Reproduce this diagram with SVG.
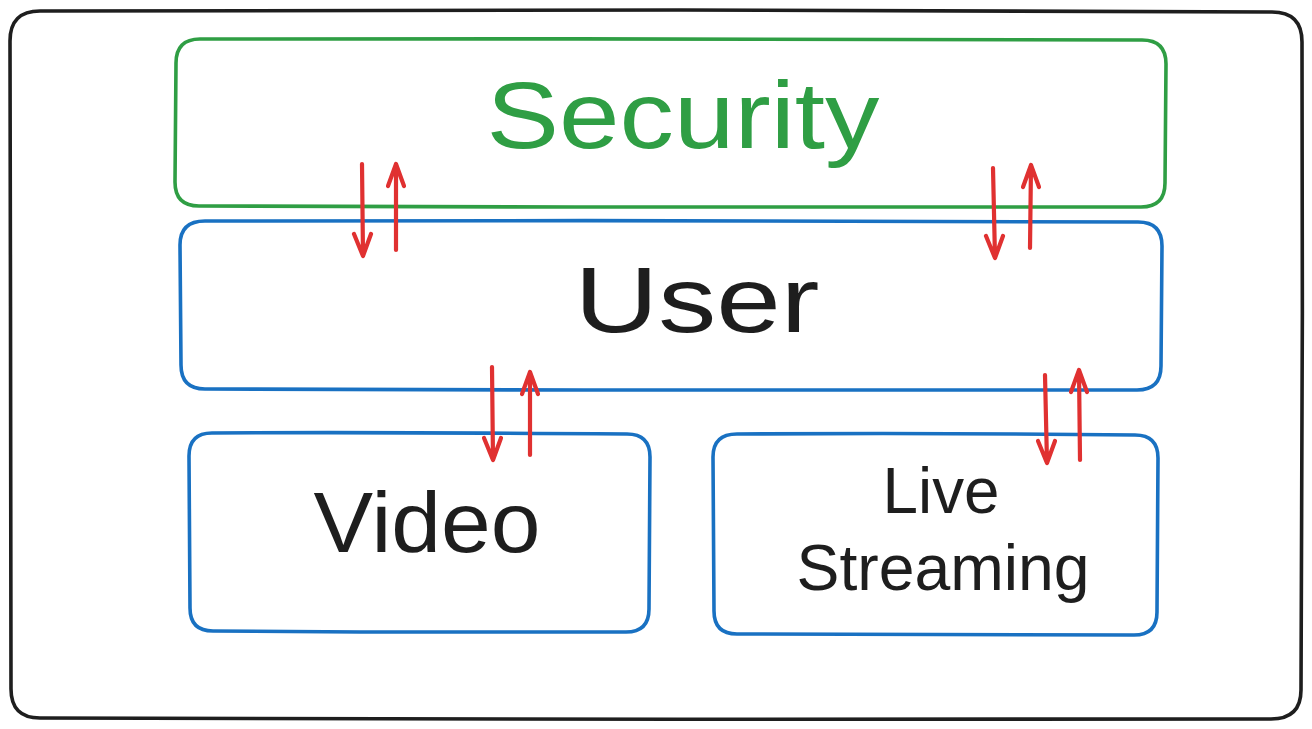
<svg xmlns="http://www.w3.org/2000/svg" width="1312" height="729" viewBox="0 0 1312 729">
<style>
.box{fill:none;stroke-width:3.6;stroke-linejoin:round}
.outer{stroke:#1e1e1e}
.green{stroke:#2f9e44}
.blue{stroke:#1971c2}
.lbl{font-family:"Liberation Sans",Arial,sans-serif;text-anchor:middle;fill:#1e1e1e}
.arr{fill:none;stroke:#e03131;stroke-width:4.2;stroke-linecap:round;stroke-linejoin:round}
</style>
<rect width="1312" height="729" fill="#ffffff"/>
<g id="frame">
<path class="box outer" d="M40 11 C400 9 900 10 1272 12 Q1302 12 1302 42 C1303 250 1302 500 1301 690 Q1301 719 1271 719 C900 720 400 719 40 718 Q11 718 11 689 C10 500 11 250 10 41 Q10 11 40 11 Z"/>
</g>
<g id="security">
<path class="box green" d="M200 39 C500 38 900 40 1142 40 Q1166 40 1166 64 L1165 183 Q1165 207 1141 207 C900 208 500 207 199 206 Q175 206 175 182 L176 63 Q176 39 200 39 Z"/>
<text class="lbl" x="683" y="148" font-size="94" style="fill:#2f9e44" textLength="393" lengthAdjust="spacingAndGlyphs">Security</text>
</g>
<g id="user">
<path class="box blue" d="M205 221 C500 220 900 221 1138 222 Q1162 222 1162 246 L1161 366 Q1161 390 1137 390 C900 391 500 390 205 389 Q181 389 181 365 L180 245 Q180 221 205 221 Z"/>
<text class="lbl" x="697" y="332" font-size="92" textLength="245" lengthAdjust="spacingAndGlyphs">User</text>
</g>
<g id="video">
<path class="box blue" d="M212 433 C350 432 500 433 627 434 Q650 434 650 457 L649 609 Q649 632 626 632 C500 633 350 632 213 631 Q190 631 190 608 L189 456 Q189 433 212 433 Z"/>
<text class="lbl" x="427" y="552" font-size="86" textLength="227" lengthAdjust="spacingAndGlyphs">Video</text>
</g>
<g id="live-streaming">
<path class="box blue" d="M737 434 C900 433 1050 434 1135 435 Q1158 435 1158 458 L1157 612 Q1157 635 1134 635 C1050 636 900 635 737 634 Q714 634 714 611 L713 457 Q713 434 737 434 Z"/>
<text class="lbl" x="941" y="513" font-size="64" textLength="117" lengthAdjust="spacingAndGlyphs">Live</text>
<text class="lbl" x="943" y="590" font-size="64" textLength="293" lengthAdjust="spacingAndGlyphs">Streaming</text>
</g>
<g id="connectors">
<path class="arr" d="M362 164 L363 256 M354 234 L363 256 L371 234"/>
<path class="arr" d="M396 250 L396 164 M388 186 L396 164 L404 186"/>
<path class="arr" d="M993 168 L995 258 M986 236 L995 258 L1003 236"/>
<path class="arr" d="M1030 248 L1031 165 M1023 187 L1031 165 L1039 187"/>
<path class="arr" d="M492 367 L493 460 M484 438 L493 460 L501 438"/>
<path class="arr" d="M530 455 L530 372 M522 394 L530 372 L538 394"/>
<path class="arr" d="M1045 375 L1047 463 M1038 441 L1047 463 L1055 441"/>
<path class="arr" d="M1080 460 L1079 370 M1071 392 L1079 370 L1087 392"/>
</g>
</svg>
